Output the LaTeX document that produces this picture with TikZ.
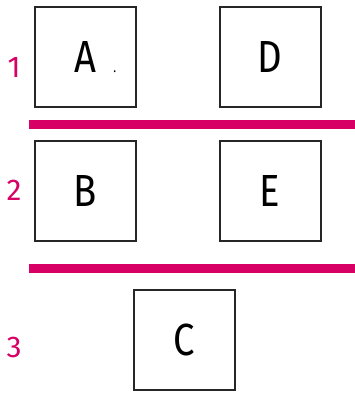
\documentclass[tikz,border=0pt]{standalone}
\usepackage{fontspec}
\setmainfont{Fira Sans}
\newfontfamily\cellfont[FakeStretch=0.85]{Fira Sans}
\definecolor{rowpink}{RGB}{215,0,100}
\usetikzlibrary{positioning}

\begin{document}
\begin{tikzpicture}[x=1pt, y=-1pt,
    cell/.style={draw=black!85, line width=2pt, minimum width=101pt,
      minimum height=100pt, inner sep=0pt,
      font=\cellfont\fontsize{45}{45}\selectfont},
    rownum/.style={text=rowpink, font=\fontsize{30}{30}\selectfont},
    divider/.style={draw=rowpink, line width=9pt},
  ]
    \useasboundingbox (0,0) rectangle (355,394);
    % row 1
    \node[cell] (a) at (85.5,57) {A\rlap{\hspace{17pt}\fontsize{14}{14}\selectfont .}};
    \node[cell] (d) at (270,57) {D};
    \node[rownum] (n1) at (14,67) {1};
    \draw[divider] (29,124.5) -- (355,124.5);
    % row 2
    \node[cell] (b) at (85.5,191) {B};
    \node[cell] (e) at (270,191) {E};
    \node[rownum] (n2) at (14,190) {2};
    \draw[divider] (29,268.5) -- (355,268.5);
    % row 3
    \node[cell] (c) at (184.5,339.5) {C};
    \node[rownum] (n3) at (14,347) {3};
  \end{tikzpicture}
\end{document}
